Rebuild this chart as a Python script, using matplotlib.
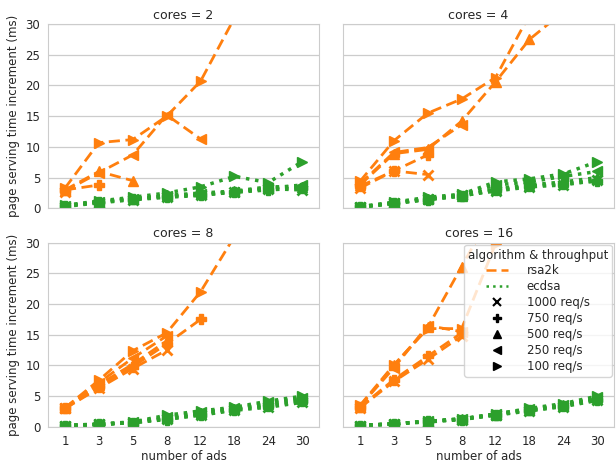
import numpy as np
from matplotlib import pyplot as plt
from matplotlib.lines import Line2D
import seaborn as sns

sns.set_style("whitegrid")

ads = [1, 3, 5, 8, 12, 18, 24, 30]
cores = [2, 4, 8, 16]
throughputs = ["1000 req/s", "750 req/s", "500 req/s", "250 req/s", "100 req/s"]
markers = ["x", "P", "^", "<", ">"]

# rsa2k, one list per throughput (1000, 750, 500, 250, 100), cut where the run stopped
rsa_c2 = [[2.6], [3.0, 3.8], [3.0, 6.0, 4.5],
          [2.8, 5.8, 8.7, 15.2, 11.3],
          [3.3, 10.7, 11.2, 15.0, 20.7, 31.0]]
rsa_c4 = [[3.3, 6.1, 5.5], [3.6, 6.1, 8.7],
          [3.8, 8.9, 9.6, 14.2, 20.6, 27.5, 32.0],
          [4.0, 9.1, 9.9, 13.6],
          [4.4, 11.0, 15.5, 17.8, 21.3, 31.5]]
rsa_c8 = [[3.0, 6.3, 9.5, 12.5], [3.0, 6.5, 9.8, 13.5, 17.5],
          [3.0, 6.9, 10.2, 14.0], [3.1, 7.2, 11.2, 14.8],
          [3.1, 7.6, 12.4, 15.3, 22.0, 31.0]]
rsa_c16 = [[3.1, 7.4, 11.0, 14.8], [3.2, 7.7, 11.5, 15.3],
           [3.3, 10.0, 16.2, 26.1, 36.0], [3.4, 9.6, 16.5, 15.5],
           [3.5, 10.1, 16.0, 16.0, 29.8]]

# ecdsa
ec_c2 = [[0.3, 0.9, 1.4, 1.8, 2.1, 2.7, 3.2, 3.0],
         [0.4, 1.0, 1.5, 1.9, 2.2, 2.6, 3.0, 3.3],
         [0.4, 1.1, 1.6, 2.1, 2.5, 2.8, 3.5, 3.5],
         [0.4, 1.0, 1.5, 2.0, 2.3, 2.7, 3.3, 3.8],
         [0.5, 1.2, 1.8, 2.5, 3.5, 5.2, 4.2, 7.6]]
ec_c4 = [[0.2, 0.8, 1.5, 2.1, 2.8, 3.5, 3.8, 4.6],
         [0.2, 0.8, 1.4, 2.0, 3.0, 3.6, 4.0, 4.4],
         [0.2, 0.9, 1.5, 2.0, 3.2, 3.8, 4.3, 5.0],
         [0.2, 0.9, 1.6, 2.2, 3.8, 4.3, 5.2, 6.0],
         [0.3, 1.0, 1.8, 2.3, 4.3, 4.8, 5.6, 7.6]]
ec_c8 = [[0.2, 0.4, 0.7, 1.3, 1.9, 2.7, 3.2, 4.0],
         [0.2, 0.4, 0.7, 1.2, 2.0, 2.8, 3.4, 4.2],
         [0.2, 0.4, 0.7, 1.4, 2.2, 2.9, 3.7, 4.5],
         [0.2, 0.4, 0.8, 1.6, 2.4, 3.0, 4.0, 4.7],
         [0.2, 0.5, 0.8, 1.9, 2.6, 3.2, 4.2, 5.0]]
ec_c16 = [[0.2, 0.5, 0.8, 1.2, 1.9, 2.6, 3.3, 4.3],
          [0.2, 0.5, 0.9, 1.2, 2.0, 2.7, 3.4, 4.4],
          [0.2, 0.5, 0.9, 1.3, 2.0, 2.8, 3.5, 4.6],
          [0.2, 0.5, 0.9, 1.3, 2.1, 2.9, 3.6, 4.8],
          [0.2, 0.5, 0.9, 1.3, 2.1, 3.0, 3.8, 5.0]]

rsa_all = [rsa_c2, rsa_c4, rsa_c8, rsa_c16]
ec_all = [ec_c2, ec_c4, ec_c8, ec_c16]

orange = "#ff7f0e"
green = "#2ca02c"

fig, axs = plt.subplots(2, 2, figsize=(6.16, 4.63), dpi=100, sharex=True, sharey=True)
fig.subplots_adjust(left=0.078, right=0.997, bottom=0.078, top=0.948, wspace=0.088, hspace=0.186)

for i, ax in enumerate(axs.flat):
    for vals, m in zip(rsa_all[i], markers):
        x = np.arange(len(vals))
        ax.plot(x, vals, ls="--", color=orange, lw=2.0, marker=m, ms=6.5,
                mew=2 if m == "x" else 1, dashes=(4, 2))
    for vals, m in zip(ec_all[i], markers):
        x = np.arange(len(vals))
        ax.plot(x, vals, ls=":", color=green, lw=2.5, marker=m, ms=6.5,
                mew=2 if m == "x" else 1)
    ax.set_title("cores = %d" % cores[i], fontsize=9, color="#262626", pad=4)
    ax.set_xlim(-0.5, len(ads) - 0.5)
    ax.set_ylim(0, 30)
    ax.set_xticks(range(len(ads)))
    ax.set_xticklabels([str(a) for a in ads])
    ax.set_yticks([0, 5, 10, 15, 20, 25, 30])
    ax.tick_params(labelsize=8.5, pad=2)
    ax.grid(axis="x", visible=False)
    ax.grid(axis="y", color="#cccccc", lw=0.9)
    for s in ax.spines.values():
        s.set_color("#cccccc")

for ax in axs[:, 0]:
    ax.set_ylabel("page serving time increment (ms)", fontsize=8.5)
for ax in axs[1, :]:
    ax.set_xlabel("number of ads", fontsize=8.5, labelpad=2)

handles = [Line2D([], [], ls="--", color=orange, lw=1.8, dashes=(4, 2)),
           Line2D([], [], ls=":", color=green, lw=1.8)]
labels = ["rsa2k", "ecdsa"]
for t, m in zip(throughputs, markers):
    handles.append(Line2D([], [], ls="", marker=m, color="black", ms=6, mew=1.5 if m == "x" else 1))
    labels.append(t)
leg = axs[1, 1].legend(handles, labels, title="algorithm & throughput", loc="upper right",
                       fontsize=8.5, title_fontsize=8.5, framealpha=0.8,
                       borderaxespad=0.2, labelspacing=0.25, handletextpad=1.6,
                       handlelength=1.8, borderpad=0.3)

plt.savefig("out.png")
